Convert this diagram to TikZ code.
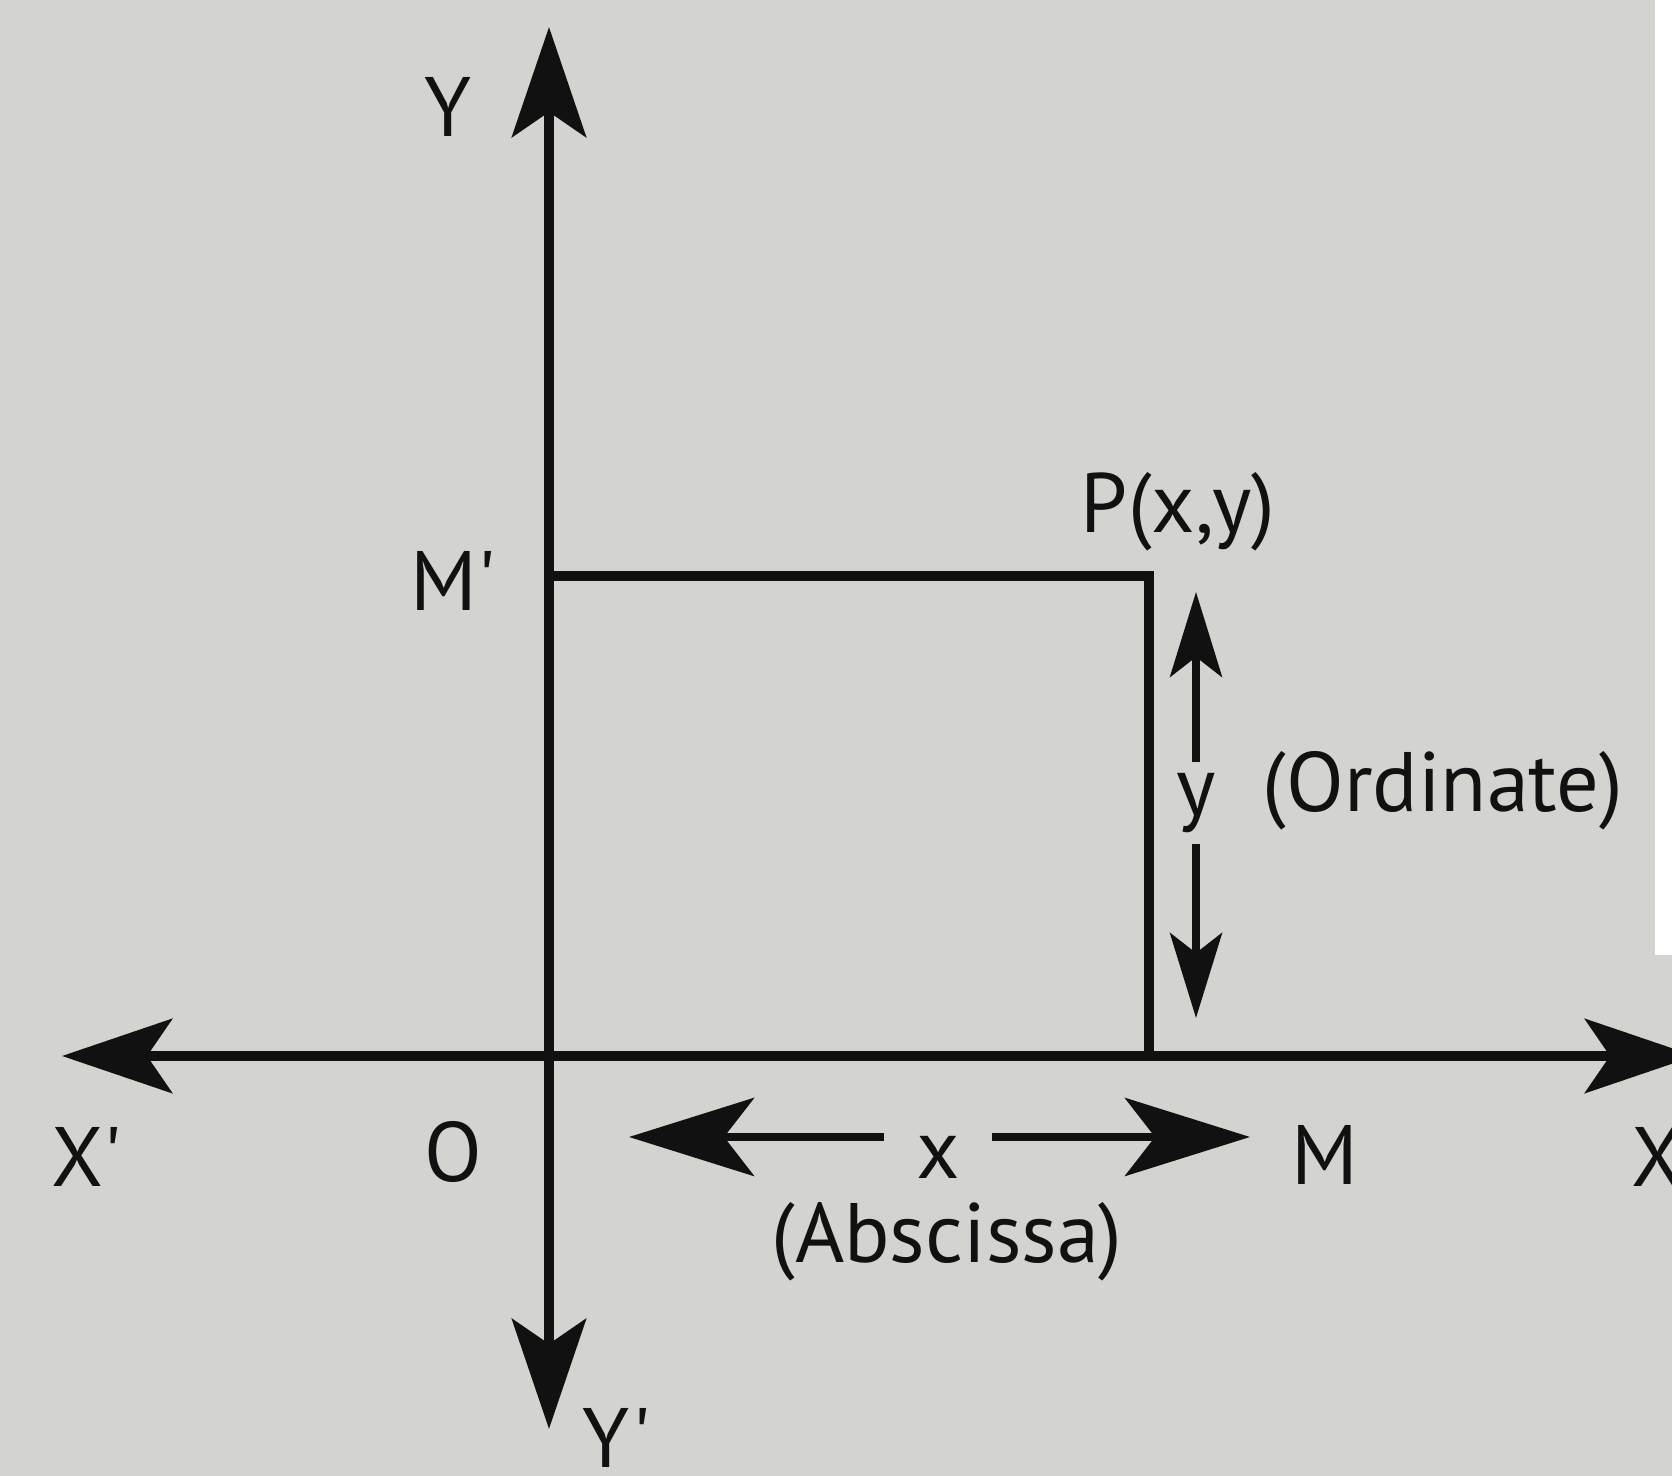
\documentclass[tikz,border=0pt]{standalone}
\usepackage{fontspec}
\setmainfont{PT Sans}[Ligatures=TeXOff]
\usetikzlibrary{arrows.meta}
\definecolor{PaperGray}{HTML}{D3D3D0}
\definecolor{InkBlack}{HTML}{111111}

\begin{document}
\begin{tikzpicture}[
  axis/.style={line width=3pt, draw=InkBlack, >={Stealth[length=1.1cm, width=0.74cm, inset=0.25cm]}, <->},
  side/.style={line width=2.6pt, draw=InkBlack, line join=miter},
  ordarr/.style={line width=2.1pt, draw=InkBlack, -{Stealth[length=0.85cm, width=0.52cm, inset=0.2cm]}},
  absarr/.style={line width=2.4pt, draw=InkBlack, -{Stealth[length=1.25cm, width=0.78cm, inset=0.3cm]}},
  lbl/.style={font=\fontsize{24}{28}\selectfont, inner sep=0pt, text=InkBlack},
]
\useasboundingbox (0,0) rectangle (16.72,14.76);
\clip (0,0) rectangle (16.72,14.76);
\fill[PaperGray] (0,0) rectangle (16.72,14.76);
\fill[white] (16.55,5.21) rectangle (16.72,14.76);

% axes
\coordinate (O) at (5.49,4.20);
\coordinate (Ytop) at (5.49,14.49);
\coordinate (Ybot) at (5.49,0.47);
\coordinate (Xleft) at (0.62,4.20);
\coordinate (Xright) at (16.95,4.20);
\draw[axis] (Xleft) -- (Xright);
\draw[axis] (Ybot) -- (Ytop);

% point P and its feet
\coordinate (Mp) at (5.49,9.00);
\coordinate (P) at (11.49,9.00);
\coordinate (M) at (11.49,4.20);
\draw[side] (Mp) -- (P) -- (M);

% ordinate
\node[lbl, inner ysep=3pt] (ylab) at (11.96,6.73) {y};
\coordinate (ordTop) at (11.96,8.84);
\coordinate (ordBot) at (11.96,4.58);
\draw[ordarr] (ylab) -- (ordTop);
\draw[ordarr] (ylab) -- (ordBot);

% abscissa
\node[lbl, inner xsep=9pt] (xlab) at (9.38,3.19) {x};
\coordinate (absL) at (6.29,3.39);
\coordinate (absR) at (12.50,3.39);
\draw[absarr] (xlab.west |- absL) -- (absL);
\draw[absarr] (xlab.east |- absR) -- (absR);

% labels
\node[lbl] (lY) at (4.48,13.69) {Y};
\node[lbl] (lYp) at (6.17,0.38) {Y'};
\node[lbl] (lXp) at (0.87,3.19) {X'};
\node[lbl] (lX) at (16.58,3.19) {X};
\node[lbl] (lO) at (4.53,3.24) {O};
\node[lbl] (lM) at (13.25,3.21) {M};
\node[lbl] (lMp) at (4.53,8.95) {M'};
\node[lbl] (lP) at (11.78,9.64) {P(x,y)};
\node[lbl] (lOrd) at (14.43,6.85) {(Ordinate)};
\node[lbl] (lAbs) at (9.47,2.34) {(Abscissa)};
\end{tikzpicture}
\end{document}
